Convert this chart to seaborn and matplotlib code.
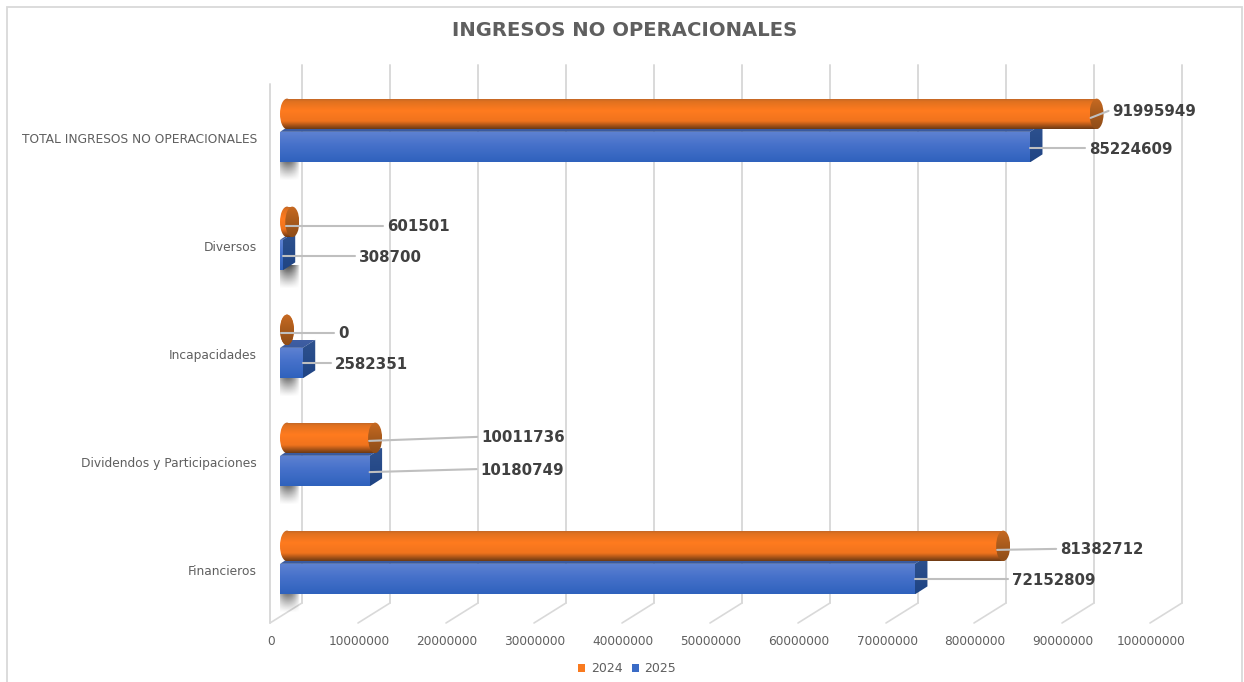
import numpy as np
import pandas as pd
import matplotlib
matplotlib.use("Agg")
import matplotlib.pyplot as plt
import seaborn as sns
from matplotlib.colors import LinearSegmentedColormap
from matplotlib.patches import Ellipse, Polygon, Rectangle
from matplotlib.transforms import ScaledTranslation

categories = ["TOTAL INGRESOS NO OPERACIONALES", "Diversos", "Incapacidades",
              "Dividendos y Participaciones", "Financieros"]
values_2024 = [91995949, 601501, 0, 10011736, 81382712]
values_2025 = [85224609, 308700, 2582351, 10180749, 72152809]
years = ["2024", "2025"]
x_ticks = [0, 10000000, 20000000, 30000000, 40000000, 50000000,
           60000000, 70000000, 80000000, 90000000, 100000000]

# leader-line end and label start, in pixels relative to the bar's front end
label_dx_2024 = [19, 98, 54, 109, 60]
label_dy_2024 = [-2, 5, 4, 0, 4]
label_slant_2024 = [7, 0, 0, 4, 1]
label_dx_2025 = [55, 72, 28, 107, 93]
label_dy_2025 = [2, 2, 1, -1, 1]
label_slant_2025 = [0, 0, 0, 3, 0]

W, H, DPI = 1244, 682, 100
GREY = "#5f5f5f"
DARK = "#404040"
GRID = "#d9d9d9"

sns.set_theme(style="white")
plt.rcParams["font.family"] = ["DejaVu Sans"]

fig = plt.figure(figsize=(W / DPI, H / DPI), dpi=DPI, facecolor="white")
left, right, top, bottom = 280, 1160, 76.5, 616.5
ax = fig.add_axes([left / W, 1 - bottom / H, (right - left) / W, (bottom - top) / H])

df = pd.DataFrame({
    "cat": categories * 2,
    "val": values_2024 + values_2025,
    "year": [years[0]] * 5 + [years[1]] * 5,
})
sns.barplot(data=df, y="cat", x="val", hue="year", order=categories, hue_order=years,
            palette=["#f97a1f", "#3a6bc6"], orient="h", width=0.615, gap=0.08, ax=ax,
            saturation=1, linewidth=0)

ax.set_xlim(0, 1e8)
ax.set_ylim(4.5, -0.5)
ax.set_xlabel("")
ax.set_ylabel("")
sns.despine(ax=ax, left=True, bottom=True)
PX = 1e8 / (right - left)
PY = 5 / (bottom - top)


def yd(py):
    return (py - top) * PY - 0.5


ORANGE = LinearSegmentedColormap.from_list("o", [(0, "#b8642a"), (0.1, "#e0711f"), (0.4, "#ff7b1f"),
                                                 (0.75, "#f0731d"), (1, "#6e3a14")])
CAP = LinearSegmentedColormap.from_list("c", ["#c76a22", "#a85a1c", "#8f4d18"])
BLUE = LinearSegmentedColormap.from_list("b", [(0, "#5f82d2"), (0.45, "#4671ca"), (1, "#2f62bd")])
SIDE = LinearSegmentedColormap.from_list("s", ["#2f528f", "#1f4484"])
TOPF = LinearSegmentedColormap.from_list("t", ["#3f5ea3", "#3a5a9e"])
GRAD = np.linspace(0, 1, 64).reshape(-1, 1)


def fill(clip, cmap, x0, x1, y0, y1, z):
    clip.set_facecolor("none")
    clip.set_edgecolor("none")
    clip.set_zorder(z)
    ax.add_patch(clip)
    im = ax.imshow(GRAD, cmap=cmap, extent=(x0, x1, y1, y0), aspect="auto",
                   origin="upper", zorder=z, interpolation="bilinear")
    im.set_clip_path(clip)


# walls and gridlines: a back line at +22 px and a floor line to the tick at -10 px
for t in x_ticks:
    ax.plot([t + 22 * PX] * 2, [yd(65), yd(603)], color=GRID, lw=1.4, zorder=0.5, clip_on=False)
    ax.plot([t + 22 * PX, t - 10 * PX], [yd(603), yd(623)], color=GRID, lw=1.2, zorder=0.5, clip_on=False)
ax.plot([-10 * PX] * 2, [yd(84), yd(623)], color=GRID, lw=1.4, zorder=0.5, clip_on=False)

# soft shadows below the start of each pair of bars
yy, xx = np.mgrid[0:1:40j, 0:1:40j]
alpha = np.clip(1 - yy, 0, 1) ** 1.2 * np.sin(np.pi * np.clip(xx, 0, 1)) ** 0.8 * 0.72
shadow = np.zeros((40, 40, 4))
shadow[..., 3] = alpha

orange_bars, blue_bars = ax.containers[0], ax.containers[1]
for bar in orange_bars:
    y0, h, v = bar.get_y(), bar.get_height(), bar.get_width()
    yc = y0 + h / 2
    cw = 14 * PX
    # cylinder body starts at the centre of its left end
    bar.set_x(7 * PX)
    bar.set_zorder(4)
    fill(Rectangle((7 * PX, y0), v, h), ORANGE, 0, 7 * PX + v, y0, y0 + h, 4.1)
    fill(Ellipse((7 * PX, yc), cw, h), ORANGE, 0, cw, y0, y0 + h, 4.05)
    fill(Ellipse((7 * PX + v, yc), cw, h), CAP, v, v + cw, y0, y0 + h, 4.2)

for bar in blue_bars:
    y0, h, v = bar.get_y(), bar.get_height(), bar.get_width()
    dx, dy = 12.5 * PX, 8 * PY
    bar.set_zorder(3)
    fill(Rectangle((0, y0), v, h), BLUE, 0, v, y0, y0 + h, 3.1)
    fill(Polygon([(0, y0), (v, y0), (v + dx, y0 - dy), (dx, y0 - dy)]), TOPF, 0, v + dx, y0 - dy, y0, 2.6)
    fill(Polygon([(v, y0), (v + dx, y0 - dy), (v + dx, y0 + h - dy), (v, y0 + h)]), SIDE,
         v, v + dx, y0 - dy, y0 + h, 2.7)
    ax.imshow(shadow, extent=(-4 * PX, 20 * PX, y0 + h + 19 * PY, y0 + h - 5 * PY),
              aspect="auto", origin="upper", zorder=1, interpolation="bilinear")

ax.set_xlim(0, 1e8)
ax.set_ylim(4.5, -0.5)


def label(bar, value, dx, dy, slant, start):
    yc = bar.get_y() + bar.get_height() / 2
    x0 = value + start * PX
    x1 = value + dx * PX
    y1 = yc + dy * PY
    yline = y1 - 1 * PY
    ax.plot([x0, x1], [yline + slant * PY, yline], color="#bfbfbf", lw=1.5, zorder=6, clip_on=False)
    ax.text(x1 + 4 * PX, y1, str(value), color=DARK, fontsize=10.8, fontweight="bold",
            va="center", ha="left", zorder=7, clip_on=False)


for bar, v, dx, dy, s in zip(orange_bars, values_2024, label_dx_2024, label_dy_2024, label_slant_2024):
    label(bar, v, dx, dy, s, 1)
for bar, v, dx, dy, s in zip(blue_bars, values_2025, label_dx_2025, label_dy_2025, label_slant_2025):
    label(bar, v, dx, dy, s, 0)

# ticks
ax.set_xticks(x_ticks)
ax.set_xticklabels([str(t) for t in x_ticks])
ax.tick_params(axis="x", length=0, pad=13, labelsize=8.7, labelcolor=GREY)
ax.tick_params(axis="y", length=0, pad=16.5, labelsize=8.85, labelcolor=GREY)
xoff = ScaledTranslation(-9 / DPI, 0, fig.dpi_scale_trans)
yoff = ScaledTranslation(0, -7.5 / DPI, fig.dpi_scale_trans)
for lab in ax.get_xticklabels():
    lab.set_transform(lab.get_transform() + xoff)
for lab in ax.get_yticklabels():
    lab.set_transform(lab.get_transform() + yoff)

fig.text(624.5 / W, 1 - 31 / H, "INGRESOS NO OPERACIONALES", color=GREY, fontsize=14.15,
         fontweight="bold", ha="center", va="center")

sns.move_legend(ax, "center", bbox_to_anchor=(627 / W, 1 - 669 / H), bbox_transform=fig.transFigure,
                ncol=2, frameon=False, title=None, handlelength=0.55, handleheight=0.55,
                handletextpad=0.45, columnspacing=0.75, fontsize=9, labelcolor=GREY)

fig.add_artist(Rectangle((7 / W, -0.02), (1242 - 7) / W, 1.02 - 7 / H, transform=fig.transFigure,
                         fill=False, edgecolor=GRID, lw=1.3))
fig.savefig("out.png", dpi=DPI)
